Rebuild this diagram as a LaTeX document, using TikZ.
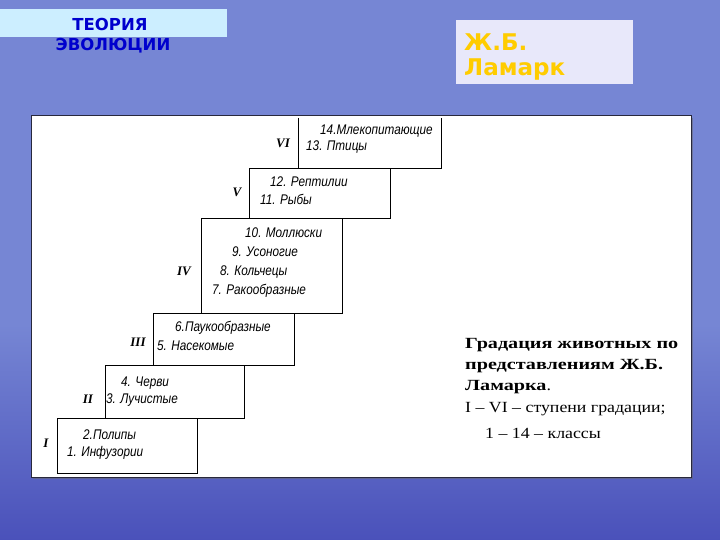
\documentclass[tikz,border=0pt]{standalone}
\usepackage{fontspec}
\setmainfont{Liberation Serif}
\newfontfamily\dvs{DejaVu Sans}
\newfontfamily\scan[FakeStretch=0.84]{Liberation Sans}
\newfontfamily\romn{Liberation Serif}
\newfontfamily\rtfont[FakeStretch=1.15]{Liberation Serif}
\newfontfamily\rtbold[FakeStretch=1.3]{Liberation Serif Bold}
\definecolor{bgT}{RGB}{80,80,180}
\definecolor{bgU}{RGB}{130,132,208}
\definecolor{bgM}{RGB}{118,134,212}
\definecolor{bgB}{RGB}{50,52,172}
\definecolor{titlefill}{RGB}{204,238,255}
\definecolor{titleblue}{RGB}{0,0,205}
\definecolor{namefill}{RGB}{232,232,250}
\definecolor{namegold}{RGB}{255,204,0}
\definecolor{panelline}{RGB}{40,40,60}
\pgfdeclareverticalshading{bgsh}{100bp}{color(0bp)=(bgB); color(14bp)=(bgB); color(45bp)=(bgM); color(75bp)=(bgM); color(85bp)=(bgU); color(95bp)=(bgU); color(100bp)=(bgT)}
\tikzset{
  stepbox/.style={draw=black, line width=0.9pt, fill=none},
  steptext/.style={font=\scan\itshape\fontsize{14}{15}\selectfont, anchor=west, inner sep=0pt},
  roman/.style={font=\romn\bfseries\itshape\fontsize{13}{14}\selectfont, inner sep=0pt},
  rt/.style={font=\rtfont\fontsize{15.5}{18}\selectfont, anchor=west, inner sep=0pt},
  rtb/.style={font=\rtbold\fontsize{15.5}{18}\selectfont, anchor=west, inner sep=0pt},
}
\begin{document}
\begin{tikzpicture}[x=1pt,y=-1pt]
\useasboundingbox (0,0) rectangle (720,540);
\shade[shading=bgsh] (0,0) rectangle (720,540);
% title
\fill[titlefill] (0,9) rectangle (227,37);
\node[font=\dvs\bfseries\fontsize{16.5}{18}\selectfont, text=titleblue, inner sep=0pt] (t1) at (110,24) {ТЕОРИЯ};
\node[font=\dvs\bfseries\fontsize{16.5}{18}\selectfont, text=titleblue, inner sep=0pt] (t2) at (113,46) {ЭВОЛЮЦИИ};
% name box
\fill[namefill] (456,20) rectangle (633,84);
\node[font=\dvs\bfseries\fontsize{23}{25}\selectfont, text=namegold, anchor=west, inner sep=0pt] (n1) at (464,42) {Ж.Б.};
\node[font=\dvs\bfseries\fontsize{23}{25}\selectfont, text=namegold, anchor=west, inner sep=0pt] (n2) at (464,70) {Ламарк};
% panel
\fill[black!60, opacity=0.5] (33,118) rectangle (693,479);
\draw[fill=white, draw=panelline, line width=1pt] (31,116) rectangle (691,477);
% boxes
\draw[stepbox] (57,418) rectangle (197,473);
\draw[stepbox] (105,365) rectangle (244,418);
\draw[stepbox] (153,313) rectangle (294,365);
\draw[stepbox] (201,218) rectangle (342,313);
\draw[stepbox] (249,168) rectangle (390,218);
\draw[stepbox] (298,118) -- (298,168) -- (441,168) -- (441,118);
% roman numerals
\node[roman] (r1) at (46,443) {I};
\node[roman] (r2) at (88,399) {II};
\node[roman] (r3) at (138,342) {III};
\node[roman] (r4) at (184,271) {IV};
\node[roman] (r5) at (237,192) {V};
\node[roman] (r6) at (283,143) {VI};
% texts
\node[steptext] (c2) at (83,435) {2.Полипы};
\node[steptext] (c1) at (67,453) {1. Инфузории};
\node[steptext] (c4) at (121,383) {4. Черви};
\node[steptext] (c3) at (106,400) {3. Лучистые};
\node[steptext] (c6) at (175,328) {6.Паукообразные};
\node[steptext] (c5) at (157,346) {5. Насекомые};
\node[steptext] (c10) at (245,233) {10. Моллюски};
\node[steptext] (c9) at (232,252) {9. Усоногие};
\node[steptext] (c8) at (220,272) {8. Кольчецы};
\node[steptext] (c7) at (212,291) {7. Ракообразные};
\node[steptext] (c12) at (270,182) {12. Рептилии};
\node[steptext] (c11) at (260,199) {11. Рыбы};
\node[steptext] (c14) at (320,131) {14.Млекопитающие};
\node[steptext] (c13) at (306,147) {13. Птицы};
% right text
\node[rtb] (g1) at (465,345) {Градация животных по};
\node[rtb] (g2) at (465,366) {представлениям Ж.Б.};
\node[rt] (g3) at (465,387) {{\rtbold Ламарка}.};
\node[rt] (g4) at (465,409) {I – VI – ступени градации;};
\node[rt] (g5) at (485,433) {1 – 14 – классы};
\end{tikzpicture}
\end{document}
